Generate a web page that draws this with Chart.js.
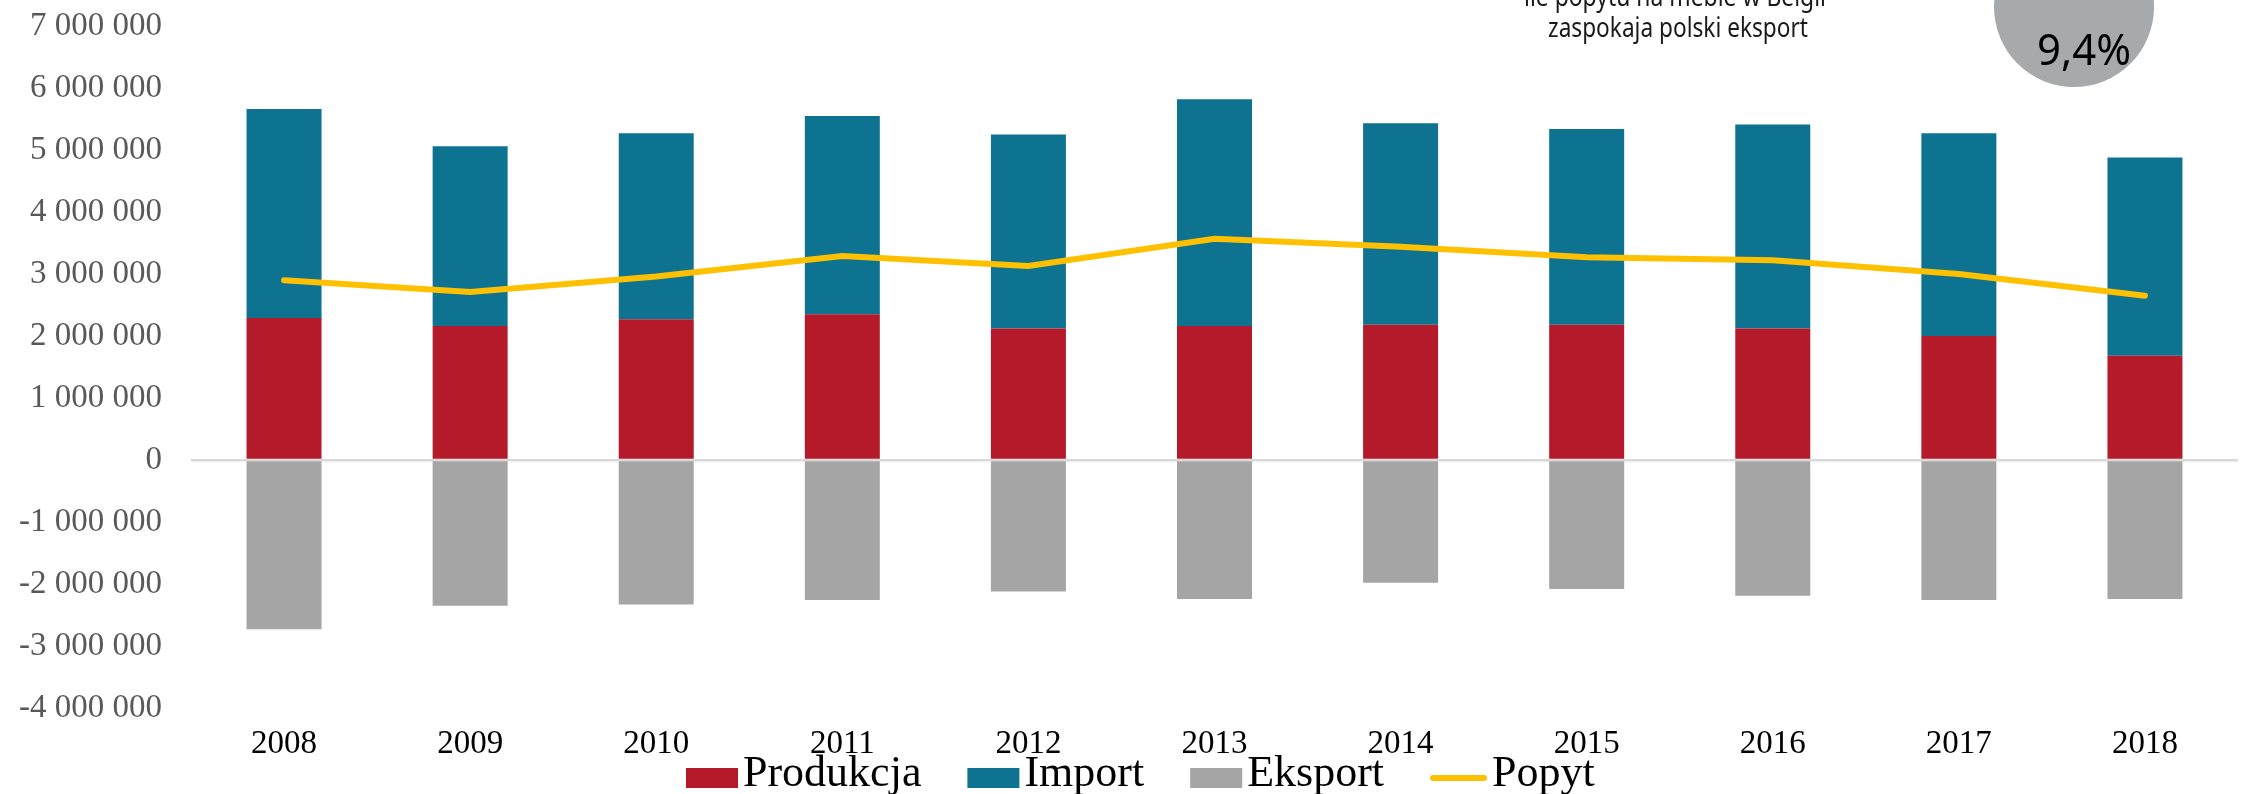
<!DOCTYPE html>
<html lang="pl">
<head>
<meta charset="utf-8">
<title>Produkcja, import, eksport i popyt</title>
<script src="https://cdn.jsdelivr.net/npm/chart.js@4.4.1/dist/chart.umd.min.js"></script>
<style>
  html, body { margin: 0; padding: 0; background: #fff; }
  #wrap { width: 2242px; height: 794px; position: relative; }
</style>
</head>
<body>
<div id="wrap"><canvas id="wykres" width="2242" height="794"></canvas></div>
<script>
const lata = ["2008", "2009", "2010", "2011", "2012", "2013", "2014", "2015", "2016", "2017", "2018"];
const produkcja = [2290000, 2160000, 2270000, 2350000, 2120000, 2160000, 2180000, 2180000, 2120000, 2000000, 1680000];
const importSeria = [3370000, 2900000, 3000000, 3200000, 3130000, 3660000, 3250000, 3160000, 3290000, 3270000, 3200000];
const eksport = [-2730000, -2350000, -2330000, -2260000, -2120000, -2240000, -1980000, -2080000, -2190000, -2260000, -2240000];
const popyt = [2900000, 2710000, 2960000, 3290000, 3130000, 3570000, 3440000, 3270000, 3220000, 3000000, 2650000];

const yMin = -4000000;
const yMax = 7000000;
const yKrok = 1000000;

const udzialTekst = ["ile popytu na meble w Belgii", "zaspokaja polski eksport"];
const udzialWartosc = "9,4%";

function formatLiczby(v) {
  const s = Math.abs(v).toString().replace(/\B(?=(\d{3})+(?!\d))/g, " ");
  return (v < 0 ? "-" : "") + s;
}

// legenda i dopiski rysowane recznie, zeby odstepy byly jak w oryginale
const dopiski = {
  id: "dopiski",
  afterDraw(chart) {
    const ctx = chart.ctx;
    ctx.save();

    // legenda
    let x = 686;
    ctx.font = "44px 'Liberation Serif'";
    ctx.textBaseline = "alphabetic";
    ctx.textAlign = "left";
    chart.data.datasets.forEach(ds => {
      if (ds.type === "line") {
        ctx.strokeStyle = ds.borderColor;
        ctx.lineWidth = 6;
        ctx.lineCap = "round";
        ctx.beginPath();
        ctx.moveTo(x + 3, 778);
        ctx.lineTo(x + 54, 778);
        ctx.stroke();
        x += 62;
      } else {
        ctx.fillStyle = ds.backgroundColor;
        ctx.fillRect(x, 768, 52, 20);
        x += 57;
      }
      ctx.fillStyle = "#000";
      ctx.fillText(ds.label, x, 786);
      x += ctx.measureText(ds.label).width + 46;
    });

    // tekst u gory
    ctx.fillStyle = "#1a1a1a";
    ctx.textAlign = "center";
    ctx.font = "28px 'Noto Sans'";
    ctx.fillText(udzialTekst[0], 1675, 6, 302);
    ctx.fillText(udzialTekst[1], 1678, 37, 260);

    // kolko z udzialem
    ctx.fillStyle = "#a7a9ab";
    ctx.beginPath();
    ctx.arc(2074, 7, 80, 0, Math.PI * 2);
    ctx.fill();
    ctx.fillStyle = "#000";
    ctx.font = "44px 'Noto Sans'";
    ctx.fillText(udzialWartosc, 2084, 65, 94);

    ctx.restore();
  }
};

const ctx = document.getElementById("wykres").getContext("2d");

new Chart(ctx, {
  data: {
    labels: lata,
    datasets: [
      {
        type: "bar",
        label: "Produkcja",
        data: produkcja,
        backgroundColor: "#b41a29",
        order: 1
      },
      {
        type: "bar",
        label: "Import",
        data: importSeria,
        backgroundColor: "#0e7390",
        order: 1
      },
      {
        type: "bar",
        label: "Eksport",
        data: eksport,
        backgroundColor: "#a5a5a5",
        order: 1
      },
      {
        type: "line",
        label: "Popyt",
        data: popyt,
        borderColor: "#ffc000",
        backgroundColor: "#ffc000",
        borderWidth: 6,
        pointRadius: 0,
        tension: 0,
        borderCapStyle: "round",
        order: 0
      }
    ]
  },
  options: {
    responsive: false,
    animation: false,
    layout: {
      padding: { top: 26, right: 4, bottom: 0, left: 0 }
    },
    datasets: {
      bar: { barPercentage: 0.403, categoryPercentage: 1, stack: "s" }
    },
    plugins: {
      legend: { display: false },
      tooltip: { enabled: false }
    },
    scales: {
      x: {
        stacked: true,
        grid: { display: false, drawTicks: false },
        border: { display: false },
        ticks: {
          color: "#000",
          padding: 17,
          font: { family: "'Liberation Serif'", size: 33 }
        },
        afterFit(axis) { axis.height = 86; }
      },
      y: {
        stacked: true,
        min: yMin,
        max: yMax,
        border: { display: false },
        grid: {
          drawTicks: false,
          lineWidth: 2.5,
          color: c => (c.tick && c.tick.value === 0 ? "#d9d9d9" : "rgba(0,0,0,0)")
        },
        ticks: {
          stepSize: yKrok,
          color: "#595959",
          padding: 29,
          font: { family: "'Liberation Serif'", size: 33 },
          callback: v => formatLiczby(v)
        },
        afterFit(axis) {
          axis.width = 191;
          axis.paddingTop = 0;
          axis.paddingBottom = 0;
        }
      }
    }
  },
  plugins: [dopiski]
});
</script>
</body>
</html>
